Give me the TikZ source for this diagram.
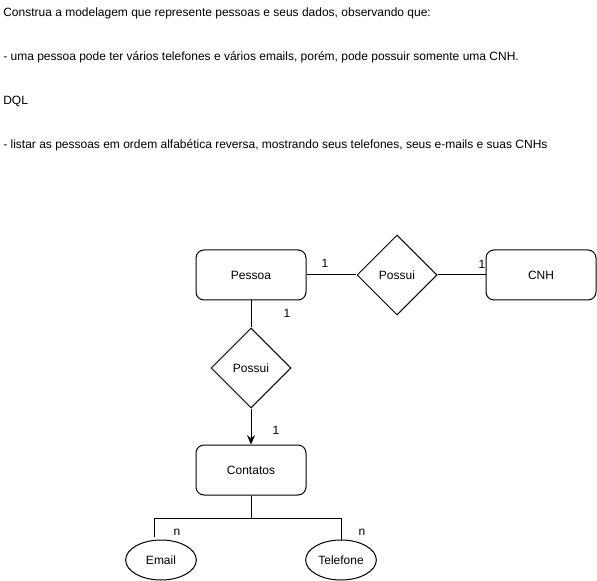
\documentclass[tikz,border=0pt]{standalone}
\usepackage{fontspec}
\setmainfont{Liberation Sans}
\usetikzlibrary{shapes.geometric, arrows.meta}

\begin{document}
\begin{tikzpicture}[x=0.75pt, y=-0.75pt, font=\fontsize{9pt}{11pt}\selectfont,
        entity/.style={draw, rounded corners=6pt, minimum width=82.5pt, minimum height=37.5pt, line width=0.75pt},
        relation/.style={draw, diamond, minimum width=60pt, minimum height=60pt, inner sep=0pt, line width=0.75pt},
        attrib/.style={draw, ellipse, minimum width=53pt, minimum height=30pt, inner sep=0pt, line width=0.75pt},
        card/.style={inner sep=0pt},
        statement/.style={anchor=west, inner sep=0pt}]
        \useasboundingbox (0,0) rectangle (597,581);

        \node[statement] (t1) at (3,13) {Construa a modelagem que represente pessoas e seus dados, observando que:};
        \node[statement] (t2) at (3,57) {- uma pessoa pode ter vários telefones e vários emails, porém, pode possuir somente uma CNH.};
        \node[statement] (t3) at (3,101) {DQL};
        \node[statement] (t4) at (3,145) {- listar as pessoas em ordem alfabética reversa, mostrando seus telefones, seus e-mails e suas CNHs};

        \node[entity] (pessoa) at (251,275) {Pessoa};
        \node[relation] (possuiA) at (397,275) {Possui};
        \node[entity] (cnh) at (541,275) {CNH};
        \node[relation] (possuiB) at (251,368) {Possui};
        \node[entity] (contatos) at (251,470) {Contatos};
        \node[attrib] (email) at (161,560) {Email};
        \node[attrib] (telefone) at (341,560) {Telefone};
        \coordinate (fork) at (251,518);
        \coordinate (emailend) at (154,537);

        \draw[line width=0.75pt] (pessoa) -- (possuiA);
        \draw[line width=0.75pt] (possuiA) -- (cnh);
        \draw[line width=0.75pt] (pessoa) -- (possuiB);
        \draw[line width=0.75pt, -{Stealth[length=7pt, width=6pt]}] (possuiB) -- (contatos);
        \draw[line width=0.75pt] (contatos) -- (fork) -| (emailend);
        \draw[line width=0.75pt] (fork) -| (telefone.north);

        \node[card] at (325,263) {1};
        \node[card] at (482,264) {1};
        \node[card] at (287,313) {1};
        \node[card] at (276,430) {1};
        \node[card] at (177,532) {n};
        \node[card] at (362,532) {n};
        \end{tikzpicture}
\end{document}
